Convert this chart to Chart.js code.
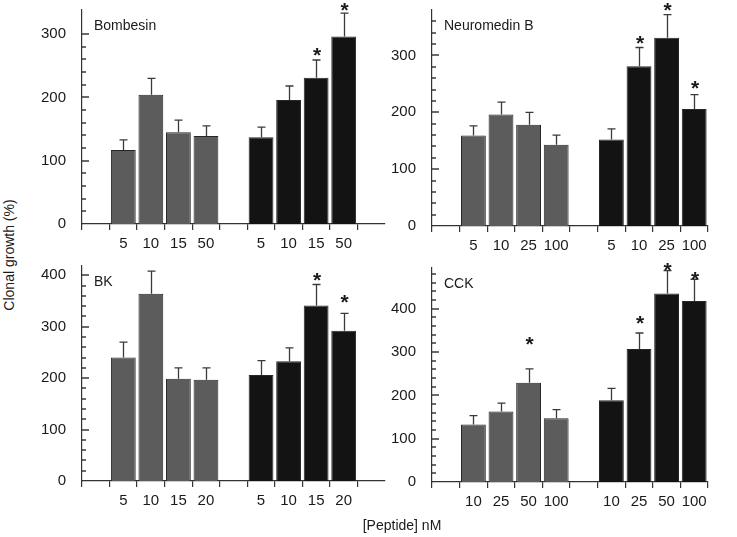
<!DOCTYPE html>
<html><head><meta charset="utf-8">
<script src="https://cdn.jsdelivr.net/npm/chart.js@4.4.1/dist/chart.umd.min.js"></script>
<style>
html,body{margin:0;padding:0;background:#fff;width:737px;height:537px;overflow:hidden;position:relative;font-family:"Liberation Sans",Arial,sans-serif;color:#1a1a1a;}
canvas{position:absolute;}
#ytitle{position:absolute;left:9px;top:255px;transform:translate(-50%,-50%) rotate(-90deg);font-size:14px;white-space:nowrap;}
#xtitle{position:absolute;left:402px;top:525px;transform:translate(-50%,-50%);font-size:14px;white-space:nowrap;}
</style></head><body>
<canvas id="c1"></canvas><canvas id="c2"></canvas><canvas id="c3"></canvas><canvas id="c4"></canvas>
<div id="ytitle">Clonal growth (%)</div>
<div id="xtitle">[Peptide] nM</div>
<script>
// ---- data ----
const bombesinDoses = ['5', '10', '15', '50'];
const bombesinGray = [117, 204, 145, 139];
const bombesinGrayErr = [16, 26, 19, 16];
const bombesinBlack = [137, 196, 231, 296];
const bombesinBlackErr = [16, 22, 28, 37];
const bombesinStars = [null, null, null, null, null, null, 275, 346];

const neuromedinDoses = ['5', '10', '25', '100'];
const neuromedinGray = [159, 196, 178, 143];
const neuromedinGrayErr = [17, 22, 22, 17];
const neuromedinBlack = [152, 281, 331, 206];
const neuromedinBlackErr = [19, 33, 41, 25];
const neuromedinStars = [null, null, null, null, null, 330, 388, 251];

const bkDoses = ['5', '10', '15', '20'];
const bkGray = [240, 364, 199, 197];
const bkGrayErr = [30, 44, 21, 23];
const bkBlack = [206, 233, 341, 292];
const bkBlackErr = [28, 26, 41, 34];
const bkStars = [null, null, null, null, null, null, 400, 358];

const cckDoses = ['10', '25', '50', '100'];
const cckGray = [133, 163, 229, 147];
const cckGrayErr = [20, 19, 32, 20];
const cckBlack = [189, 307, 435, 418];
const cckBlackErr = [27, 37, 53, 50];
const cckStars = [null, null, 329, null, null, 379, 502, 481];

// ---- style ----
const GRAY = '#5c5c5c', BLACK = '#131313', EDGE = '#262626', AXIS = '#333333', TEXT = '#1a1a1a';
const FONT = '"Liberation Sans", Arial, sans-serif';

function makeDecor(cfg) {
  return {
    id: 'decor_' + cfg.id,
    afterDraw(chart) {
      const ctx = chart.ctx;
      const a = chart.chartArea;
      const y = chart.scales.y;
      ctx.save();
      ctx.setLineDash([]);
      // inner y tick marks (major every 100, minor every 20)
      ctx.strokeStyle = '#2a2a2a';
      ctx.lineWidth = 1.4;
      const left = Math.round(a.left);
      for (let v = 20; v <= cfg.tickTop; v += 20) {
        const py = Math.round(y.getPixelForValue(v));
        const len = (v % 100 === 0) ? 7 : 4;
        ctx.beginPath();
        ctx.moveTo(left, py);
        ctx.lineTo(left + len, py);
        ctx.stroke();
      }
      // error bars
      const meta = chart.getDatasetMeta(0);
      const vals = chart.data.datasets[0].data;
      ctx.strokeStyle = '#3a3a3a'; ctx.lineWidth = 1.3;
      meta.data.forEach((el, i) => {
        const v = vals[i];
        if (v == null || cfg.errs[i] == null) return;
        const x0 = Math.round(el.x) + 0.5;
        const yt = y.getPixelForValue(v + cfg.errs[i]);
        ctx.beginPath();
        ctx.moveTo(x0, el.y); ctx.lineTo(x0, yt);
        ctx.moveTo(x0 - 4, yt); ctx.lineTo(x0 + 4, yt);
        ctx.stroke();
      });
      // significance stars
      ctx.fillStyle = TEXT; ctx.textAlign = 'center'; ctx.textBaseline = 'alphabetic';
      const sz = 21;
      ctx.font = 'bold ' + sz + 'px ' + FONT;
      meta.data.forEach((el, i) => {
        const s = cfg.stars[i];
        if (s == null) return;
        ctx.fillText('*', el.x + 1, y.getPixelForValue(s) + 0.57 * sz);
      });
      // panel label
      ctx.font = '14px ' + FONT; ctx.textAlign = 'left'; ctx.textBaseline = 'middle';
      ctx.fillText(cfg.title, a.left + 12, a.top + 16);
      ctx.restore();
    }
  };
}

function buildPanel(id, area, title, doses, gray, grayErr, black, blackErr, stars, ymax, tickTop, trailingGap) {
  const padL = 60, padT = 20, padR = 10, padB = 40;
  const cv = document.getElementById(id);
  const w = area.R - area.L + padL + padR, h = area.B - area.T + padT + padB;
  cv.width = w; cv.height = h;
  cv.style.width = w + 'px'; cv.style.height = h + 'px';
  cv.style.left = (area.L - padL) + 'px'; cv.style.top = (area.T - padT) + 'px';

  const labels = [''].concat(doses, [''], doses);
  const values = [null].concat(gray, [null], black);
  const errs = [null].concat(grayErr, [null], blackErr);
  const st = [null].concat(stars.slice(0, 4), [null], stars.slice(4));
  if (trailingGap) { labels.push(''); values.push(null); errs.push(null); st.push(null); }
  const colors = values.map((v, i) => (i >= 1 && i <= 4) ? GRAY : BLACK);

  new Chart(cv, {
    type: 'bar',
    data: {
      labels: labels,
      datasets: [{
        data: values,
        backgroundColor: colors,
        borderColor: EDGE,
        borderWidth: 1,
        barPercentage: 0.9,
        categoryPercentage: 1
      }]
    },
    options: {
      responsive: false,
      animation: false,
      devicePixelRatio: 1,
      layout: {padding: {top: padT, right: padR, left: 0, bottom: 0}},
      plugins: {legend: {display: false}, tooltip: {enabled: false}},
      scales: {
        x: {
          offset: true,
          grid: {
            offset: true, drawOnChartArea: false, drawTicks: true, tickLength: 6, lineWidth: 1.2,
            color: (c) => (trailingGap && c.index === undefined) ? 'rgba(0,0,0,0)' : AXIS
          },
          border: {color: AXIS, width: 1.2},
          ticks: {autoSkip: false, maxRotation: 0, padding: 5, color: TEXT, font: {family: FONT, size: 15}},
          afterFit: (s) => { s.height = padB; }
        },
        y: {
          min: 0, max: ymax,
          grid: {display: false},
          border: {color: AXIS, width: 1.2},
          ticks: {
            stepSize: 20, autoSkip: false, includeBounds: false, padding: 8, color: TEXT,
            font: {family: FONT, size: 15},
            callback: (v) => (v % 100 === 0 ? String(v) : '')
          },
          afterFit: (s) => { s.width = padL; }
        }
      }
    },
    plugins: [makeDecor({id: id, errs: errs, stars: st, title: title, tickTop: tickTop})]
  });
}

buildPanel('c1', {L: 82, T: 10, R: 385, B: 224}, 'Bombesin', bombesinDoses, bombesinGray, bombesinGrayErr, bombesinBlack, bombesinBlackErr, bombesinStars, 338, 300, true);
buildPanel('c2', {L: 432, T: 10, R: 708, B: 226}, 'Neuromedin B', neuromedinDoses, neuromedinGray, neuromedinGrayErr, neuromedinBlack, neuromedinBlackErr, neuromedinStars, 380, 360, false);
buildPanel('c3', {L: 82, T: 266, R: 385, B: 481}, 'BK', bkDoses, bkGray, bkGrayErr, bkBlack, bkBlackErr, bkStars, 418, 400, true);
buildPanel('c4', {L: 432, T: 268, R: 708, B: 482}, 'CCK', cckDoses, cckGray, cckGrayErr, cckBlack, cckBlackErr, cckStars, 494, 480, false);
</script>
</body></html>
